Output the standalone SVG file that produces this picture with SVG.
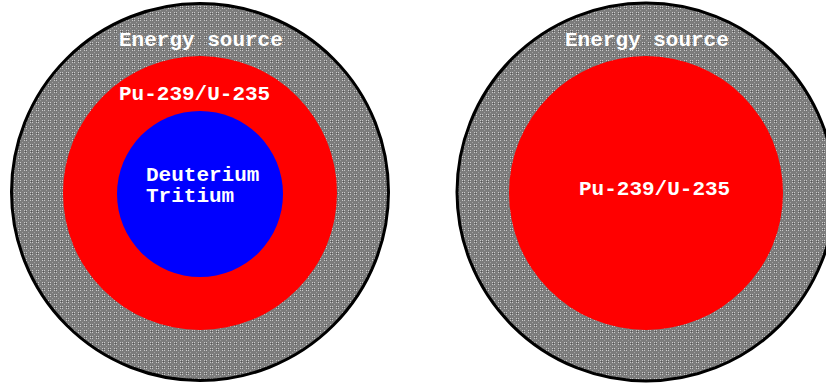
<svg xmlns="http://www.w3.org/2000/svg" width="826" height="385" viewBox="0 0 826 385">
  <defs>
    <!-- fine grey stipple used for the outer energy-source shell -->
    <pattern id="stipple" width="6" height="6" patternUnits="userSpaceOnUse">
      <rect width="6" height="6" fill="#7c7c7c"/>
      <rect x="0" y="0" width="1" height="1" fill="#c8c8c8"/>
      <rect x="2" y="0" width="1" height="1" fill="#c8c8c8"/>
      <rect x="1" y="1" width="1" height="1" fill="#505050"/>
      <rect x="0" y="2" width="1" height="1" fill="#c8c8c8"/>
      <rect x="2" y="2" width="1" height="1" fill="#c8c8c8"/>
      <rect x="4" y="4" width="1" height="1" fill="#a0a0a0"/>
    </pattern>
  </defs>
  <style>
    .shell { fill: url(#stipple); stroke: #000; stroke-width: 3; }
    .fissile { fill: #ff0000; }
    .fusion { fill: #0000ff; }
    .lbl { font-family: "Liberation Mono", "Courier New", monospace; font-weight: bold; font-size: 21px; fill: #fff; }
  </style>

  <!-- boosted design: shell, fissile pit, D-T core -->
  <g id="boosted">
    <circle class="shell" cx="200" cy="192" r="188.5"/>
    <circle class="fissile" cx="200" cy="193" r="137"/>
    <circle class="fusion" cx="200" cy="194" r="83"/>
    <text class="lbl" x="119" y="46">Energy source</text>
    <text class="lbl" x="119" y="100">Pu-239/U-235</text>
    <text class="lbl" x="146" y="181">Deuterium</text>
    <text class="lbl" x="146" y="202">Tritium</text>
  </g>

  <!-- pure fission design: shell and fissile pit -->
  <g id="fission">
    <circle class="shell" cx="646" cy="192" r="189"/>
    <circle class="fissile" cx="646" cy="193" r="137"/>
    <text class="lbl" x="565" y="46">Energy source</text>
    <text class="lbl" x="579" y="195">Pu-239/U-235</text>
  </g>
</svg>
